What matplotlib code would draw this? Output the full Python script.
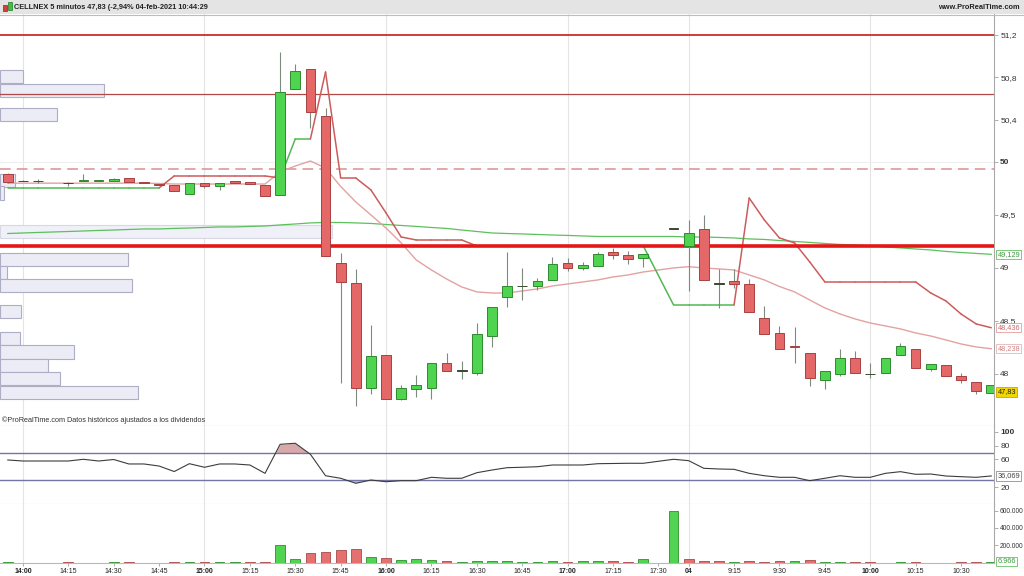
import numpy as np
import matplotlib.pyplot as plt
from matplotlib.patches import Rectangle
from matplotlib.lines import Line2D

nan = np.nan

# 5-minute candles: index 0 = 13:55 (03-feb) ... 44 = 17:35, 45 = 9:00 (04-feb) ... 65 = 10:40
opens = [49.89, 49.82, 49.82, nan, 49.80, 49.82, 49.82, 49.82, 49.85, 49.81,
         49.79, 49.78, 49.70, 49.80, 49.77, 49.82, 49.81, 49.78, 49.69, 50.69,
         50.88, 50.43, 49.05, 48.86, 47.87, 48.18, 47.76, 47.86, 47.87, 48.10,
         48.03, 48.01, 48.36, 48.73, 48.83, 48.83, 48.89, 49.05, 49.00, 49.02,
         49.15, 49.12, 49.09, nan, 49.37, 49.21, 49.37, 48.85, 48.88, 48.85,
         48.53, 48.39, 48.26, 48.20, 47.94, 48.00, 48.15, 48.00, 48.01, 48.18,
         48.24, 48.05, 48.08, 47.98, 47.92, 47.82]
highs = [49.90, 49.83, 49.84, nan, 49.81, 49.89, 49.83, 49.85, 49.85, 49.81,
         49.79, 49.78, 49.80, 49.80, 49.80, 49.82, 49.81, 49.78, 51.04, 50.92,
         50.88, 50.51, 49.14, 48.99, 48.46, 48.18, 47.90, 47.99, 48.10, 48.20,
         48.12, 48.48, 48.63, 49.15, 49.00, 48.91, 49.10, 49.09, 49.06, 49.15,
         49.19, 49.16, 49.13, nan, 49.37, 49.45, 49.50, 48.99, 48.99, 48.90,
         48.64, 48.45, 48.44, 48.20, 48.03, 48.24, 48.22, 48.10, 48.15, 48.29,
         48.24, 48.09, 48.08, 48.01, 47.92, 47.90]
lows = [49.80, 49.82, 49.80, nan, 49.77, 49.82, 49.82, 49.82, 49.81, 49.80,
        49.78, 49.73, 49.70, 49.75, 49.74, 49.80, 49.79, 49.68, 49.69, 50.69,
        50.32, 49.11, 47.91, 47.70, 47.81, 47.76, 47.75, 47.78, 47.76, 48.03,
        47.95, 47.99, 48.25, 48.63, 48.70, 48.79, 48.89, 48.97, 48.98, 49.02,
        49.08, 49.04, 49.01, nan, 49.37, 48.78, 48.89, 48.62, 48.81, 48.58,
        48.38, 48.24, 48.10, 47.89, 47.86, 47.98, 48.01, 47.96, 48.01, 48.18,
        48.06, 48.03, 47.98, 47.91, 47.81, 47.82]
closes = [49.81, 49.82, 49.82, nan, 49.80, 49.83, 49.83, 49.84, 49.81, 49.80,
          49.78, 49.73, 49.80, 49.77, 49.80, 49.80, 49.79, 49.68, 50.66, 50.86,
          50.47, 49.11, 48.87, 47.87, 48.17, 47.76, 47.87, 47.90, 48.10, 48.03,
          48.03, 48.38, 48.63, 48.83, 48.83, 48.88, 49.04, 49.00, 49.03, 49.13,
          49.12, 49.08, 49.13, nan, 49.37, 49.33, 48.89, 48.85, 48.85, 48.58,
          48.38, 48.24, 48.25, 47.96, 48.03, 48.15, 48.01, 48.00, 48.15, 48.26,
          48.06, 48.09, 47.98, 47.94, 47.84, 47.90]
volumes = [3000, 500, 500, nan, 800, 600, 400, 900, 1200, 400,
           700, 2500, 4000, 1500, 9000, 1000, 800, 3500, 202000, 40000,
           106000, 121000, 145000, 153000, 67000, 52000, 32000, 37000, 25000, 17000,
           6000, 17000, 14000, 17000, 2000, 6000, 17000, 6000, 14000, 14000,
           17000, 2000, 37000, nan, 599000, 40000, 17000, 17000, 1000, 14000,
           6000, 17000, 14000, 32000, 6000, 6000, 2000, 2000, 500, 2000,
           2000, 500, 500, 2000, 9000, 6966]
supertrend = [49.755, 49.755, 49.755, nan, 49.755, 49.755, 49.755, 49.755, 49.755, 49.755,
              49.755, 49.868, 49.868, 49.868, 49.868, 49.868, 49.868, 49.868, 49.849, 50.217,
              50.217, 50.849, 49.849, 49.849, 49.736, 49.519, 49.292, 49.264, 49.264, 49.264,
              49.264, 49.208, 49.208, 49.208, 49.208, 49.208, 49.208, 49.208, 49.208, 49.208,
              49.208, 49.208, 49.208, nan, 48.651, 48.651, 48.651, 48.651, 48.651, 49.660,
              49.453, 49.283, 49.236, 49.057, 48.868, 48.868, 48.868, 48.868, 48.868, 48.868,
              48.868, 48.764, 48.689, 48.566, 48.472, 48.436]
st_up = [1, 1, 1, 1, 1, 1, 1, 1, 1, 1,
         1, 0, 0, 0, 0, 0, 0, 0, 0, 1,
         1, 0, 0, 0, 0, 0, 0, 0, 0, 0,
         0, 0, 0, 0, 0, 0, 0, 0, 0, 0,
         0, 0, 0, 0, 1, 1, 1, 1, 1, 0,
         0, 0, 0, 0, 0, 0, 0, 0, 0, 0,
         0, 0, 0, 0, 0, 0]
ma_fast = [49.80, 49.80, 49.80, nan, 49.80, 49.80, 49.80, 49.80, 49.80, 49.80,
           49.797, 49.792, 49.792, 49.792, 49.792, 49.792, 49.792, 49.792, 49.906, 49.962,
           50.009, 49.943, 49.769, 49.623, 49.500, 49.377, 49.236, 49.075, 48.981, 48.896,
           48.821, 48.774, 48.764, 48.764, 48.783, 48.802, 48.830, 48.849, 48.868, 48.887,
           48.915, 48.934, 48.962, nan, 49.000, 49.012, 49.000, 48.991, 48.981, 48.934,
           48.887, 48.825, 48.774, 48.698, 48.623, 48.566, 48.519, 48.481, 48.453, 48.425,
           48.387, 48.358, 48.321, 48.283, 48.255, 48.238]
ma_slow = [49.325, 49.330, 49.335, nan, 49.344, 49.349, 49.354, 49.358, 49.363, 49.368,
           49.368, 49.373, 49.377, 49.382, 49.387, 49.387, 49.392, 49.396, 49.406, 49.415,
           49.425, 49.429, 49.429, 49.425, 49.420, 49.410, 49.401, 49.392, 49.382, 49.373,
           49.358, 49.344, 49.330, 49.325, 49.321, 49.316, 49.311, 49.307, 49.302, 49.297,
           49.297, 49.297, 49.297, nan, 49.297, 49.292, 49.292, 49.288, 49.283, 49.274,
           49.269, 49.259, 49.250, 49.241, 49.231, 49.222, 49.217, 49.208, 49.198, 49.189,
           49.179, 49.170, 49.156, 49.146, 49.137, 49.129]
rsi = [59.3, 57.8, 57.8, nan, 57.8, 60.3, 57.8, 60.0, 53.5, 53.5,
       50.5, 42.5, 53.9, 48.7, 53.5, 53.5, 52.0, 39.9, 82.1, 83.6,
       67.6, 36.4, 32.7, 25.4, 30.2, 27.7, 29.2, 29.2, 34.1, 32.7,
       32.7, 40.8, 44.7, 48.1, 48.7, 49.5, 52.0, 52.0, 52.0, 53.9,
       54.2, 54.5, 54.5, nan, 60.3, 58.3, 47.2, 46.2, 45.7, 39.9,
       36.4, 34.1, 34.1, 29.2, 32.7, 36.4, 34.1, 34.1, 39.9, 42.3,
       38.5, 38.9, 36.0, 35.0, 34.1, 36.069]

tick_idx = [1, 4, 7, 10, 13, 16, 19, 22, 25, 28, 31, 34, 37, 40, 43, 45, 48, 51, 54, 57, 60, 63]
tick_lbl = ['14:00', '14:15', '14:30', '14:45', '15:00', '15:15', '15:30', '15:45', '16:00',
            '16:15', '16:30', '16:45', '17:00', '17:15', '17:30', '04', '9:15', '9:30', '9:45',
            '10:00', '10:15', '10:30']
hour_lbl = ['14:00', '15:00', '16:00', '17:00', '04', '10:00']

price_ticks = [51.2, 50.8, 50.4, 50.0, 49.5, 49.0, 48.5, 48.0]
price_tick_lbl = ['51,2', '50,8', '50,4', '50', '49,5', '49', '48,5', '48']
rsi_ticks = [100, 80, 60, 20]
vol_ticks = [600000, 400000, 200000]
vol_tick_lbl = ['600.000', '400.000', '200.000']

# horizontal levels drawn on the price chart
level_top, level_mid, level_dash, level_res = 51.20, 50.64, 49.93, 49.21

# volume profile on the left (bin top price, relative volume)
vp_top = [50.87, 50.74, 50.51, 49.89, 49.77, 49.41, 49.14, 49.02, 48.90, 48.65,
          48.40, 48.27, 48.14, 48.02, 47.89]
vp_vol = [23, 104, 57, 15, 4, 332, 128, 7, 132, 21, 20, 74, 48, 60, 138]

W, H = 1024, 576


def box(l, t, r, b):
    return [l / W, 1 - b / H, (r - l) / W, (b - t) / H]


plt.rcParams['font.family'] = ['Liberation Sans', 'DejaVu Sans']
fig = plt.figure(figsize=(10.24, 5.76), dpi=100)
fig.patch.set_facecolor('white')

ax_p = fig.add_axes(box(0, 14, 994, 426))
ax_r = fig.add_axes(box(0, 426, 994, 504))
ax_v = fig.add_axes(box(0, 504, 994, 563))

xlim = (-0.515, 65.18)
n = len(closes)
idx = np.arange(n)
valid = ~np.isnan(np.array(closes))
xs = idx[valid]

for ax in (ax_p, ax_r, ax_v):
    ax.set_xlim(*xlim)
    ax.set_facecolor('white')
    for s in ('left', 'top'):
        ax.spines[s].set_visible(False)
    ax.spines['right'].set_color('#a8a8a8')
    ax.spines['bottom'].set_color('#b8b8b8')
    ax.yaxis.tick_right()
    ax.tick_params(axis='y', length=3, width=0.6, colors='#a0a0a0', labelcolor='#333333',
                   labelsize=6, pad=1.5)
    for k, lbl in zip(tick_idx, tick_lbl):
        if lbl in hour_lbl:
            ax.axvline(k, color='#e4e4e4', lw=0.8, zorder=0)

# ---------------- price panel ----------------
ax_p.set_ylim(47.509, 51.396)
ax_p.set_xticks([])
ax_p.set_yticks(price_ticks)
ax_p.set_yticklabels(price_tick_lbl)
for t in ax_p.get_yticklabels():
    if t.get_text() == '50':
        t.set_fontweight('bold')
ax_p.axhline(50.0, color='#efefef', lw=0.8, zorder=0)

# volume profile
vp_h = 0.125
vp_scale = (332 / 15.13) / max(vp_vol)
for top, v in zip(vp_top, vp_vol):
    light = v == max(vp_vol)
    ax_p.add_patch(Rectangle((xlim[0], top - vp_h), v * vp_scale, vp_h,
                             fc='#f0f0f8' if light else '#ececf6',
                             ec='#d8d8e4' if light else '#adadc6', lw=0.8, zorder=1))

ax_p.axhline(level_top, color='#d03a3a', lw=1.4, zorder=2)
ax_p.axhline(level_mid, color='#b04848', lw=0.9, zorder=2)
ax_p.axhline(level_dash, color='#d99090', lw=1.1, dashes=(7, 4), zorder=2)

ma_s = np.array(ma_slow)
ax_p.plot(xs, ma_s[valid], color='#5cc05c', lw=0.9, zorder=3)
ma_f = np.array(ma_fast)
ax_p.plot(xs, ma_f[valid], color='#e2a2a2', lw=1.0, zorder=3)

st = np.array(supertrend)
for a, b in zip(xs[:-1], xs[1:]):
    col = '#52b852' if st_up[b] else '#cc5c5c'
    ax_p.plot([a, b], [st[a], st[b]], color=col, lw=1.1, zorder=3,
              solid_capstyle='round')

ax_p.axhline(level_res, color='#e41616', lw=2.6, zorder=4)

bw = 0.64
for k in xs:
    o, h, l, c = opens[k], highs[k], lows[k], closes[k]
    if abs(c - o) < 0.005:
        fc, ec = '#3a4a30', '#3a4a30'
    elif c > o:
        fc, ec = '#4fd44f', '#2f8a2f'
    else:
        fc, ec = '#e46868', '#a84040'
    ax_p.vlines(k, l, h, color='#7d8a7d', lw=0.8, zorder=5)
    ax_p.add_patch(Rectangle((k - bw / 2, min(o, c)), bw, max(abs(c - o), 0.004),
                             fc=fc, ec=ec, lw=0.7, zorder=6))

ax_p.text(0.002, 0.006, '©ProRealTime.com Datos históricos ajustados a los dividendos',
          transform=ax_p.transAxes, fontsize=5.2, color='#333333', va='bottom', ha='left')


def tag(ax, y, txt, fc, ec, tc):
    ax.annotate(txt, xy=(1.0, y), xycoords=('axes fraction', 'data'),
                xytext=(2.5, 0), textcoords='offset points', fontsize=5.3, color=tc,
                va='center', ha='left', annotation_clip=False, zorder=10,
                bbox=dict(boxstyle='square,pad=0.15', fc=fc, ec=ec, lw=0.6))


tag(ax_p, ma_slow[-1], '49,129', 'white', '#66c066', '#3a9a3a')
tag(ax_p, supertrend[-1], '48,436', 'white', '#e0a0a0', '#cc6a6a')
tag(ax_p, ma_fast[-1], '48,238', 'white', '#e8b4b4', '#d08080')
tag(ax_p, closes[-1] - 0.07, '47,83', '#f2d600', '#c8a800', '#222222')

# ---------------- RSI panel ----------------
r = np.array(rsi)
ax_r.set_ylim(-4.7, 108.7)
ax_r.set_xticks([])
ax_r.set_yticks(rsi_ticks)
ax_r.set_yticklabels([str(t) for t in rsi_ticks])
ax_r.get_yticklabels()[0].set_fontweight('bold')
ax_r.axhline(70, color='#7474a8', lw=1.0, zorder=2)
ax_r.axhline(30, color='#7474a8', lw=1.0, zorder=2)
ax_r.fill_between(xs, r[valid], 70, where=r[valid] > 70, interpolate=True,
                  color='#d9a9a9', lw=0, zorder=1)
ax_r.fill_between(xs, r[valid], 30, where=r[valid] < 30, interpolate=True,
                  color='#b4c0e0', lw=0, zorder=1)
ax_r.plot(xs, r[valid], color='#3c3c3c', lw=0.8, zorder=3)
tag(ax_r, rsi[-1], '36,069', 'white', '#909090', '#444444')

# ---------------- volume panel ----------------
ax_v.set_ylim(-5000, 676000)
ax_v.set_yticks(vol_ticks)
ax_v.set_yticklabels(vol_tick_lbl)
ax_v.tick_params(axis='y', labelsize=4.8, pad=1)
prev = None
for k in xs:
    up = prev is None or closes[k] >= closes[prev]
    fc, ec = ('#52d452', '#2f8f2f') if up else ('#e47070', '#a84848')
    ax_v.add_patch(Rectangle((k - bw / 2, 0), bw, volumes[k], fc=fc, ec=ec, lw=0.6, zorder=3))
    prev = k
tag(ax_v, 15000, '6.966', 'white', '#66c066', '#3a9a3a')

ax_v.set_xticks(tick_idx)
ax_v.set_xticklabels(tick_lbl)
ax_v.tick_params(axis='x', length=2, width=0.6, colors='#a0a0a0', labelcolor='#222222',
                 labelsize=5, pad=1.5)
for t in ax_v.get_xticklabels():
    if t.get_text() in hour_lbl:
        t.set_fontweight('bold')

# ---------------- header ----------------
fig.add_artist(Rectangle((0, 1 - 14 / H), 1, 14 / H, transform=fig.transFigure,
                         fc='#e4e4e4', ec='none'))
fig.add_artist(Line2D([0, 1], [1 - 14.5 / H] * 2, transform=fig.transFigure,
                      color='#bcbcbc', lw=0.8))
fig.add_artist(Rectangle((3 / W, 1 - 11 / H), 4 / W, 6 / H, transform=fig.transFigure,
                         fc='#d84040', ec='#902020', lw=0.5))
fig.add_artist(Rectangle((8 / W, 1 - 10 / H), 4 / W, 8 / H, transform=fig.transFigure,
                         fc='#40c040', ec='#208020', lw=0.5))
fig.text(14 / W, 1 - 7.5 / H, 'CELLNEX 5 minutos 47,83 (-2,94% 04-feb-2021 10:44:29',
         fontsize=5.3, fontweight='bold', color='#222222', va='center', ha='left')
fig.text(1020 / W, 1 - 7.5 / H, 'www.ProRealTime.com', fontsize=5.3, fontweight='bold',
         color='#222222', va='center', ha='right')

fig.savefig('out.png', dpi=100)
